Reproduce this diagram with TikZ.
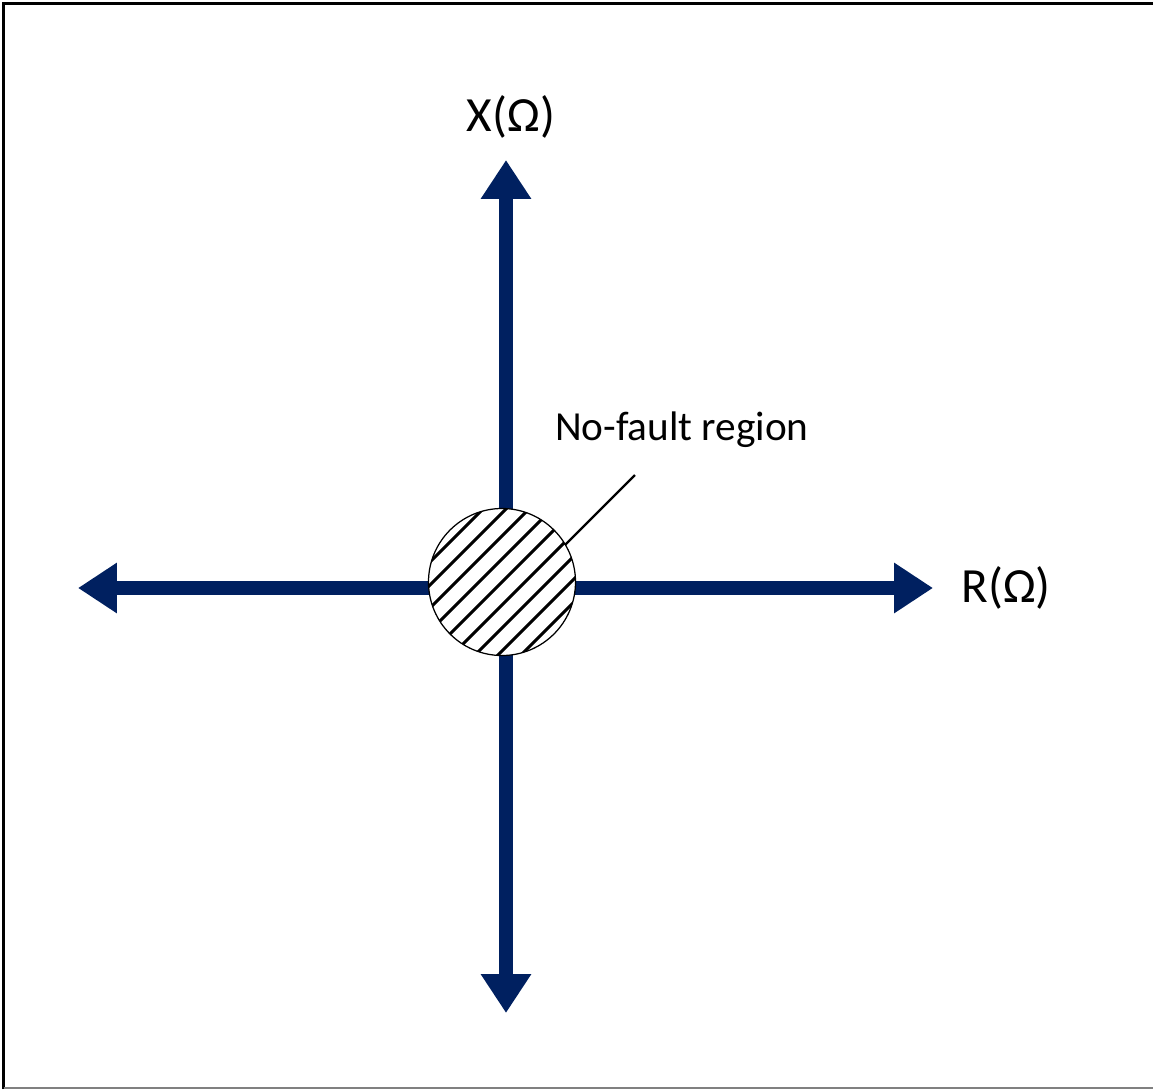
\documentclass[tikz,border=0pt]{standalone}
\usepackage{fontspec}
\setmainfont{Carlito}
\usepackage{tikz}
\usetikzlibrary{arrows.meta,positioning,calc}

\definecolor{navy}{HTML}{002060}

\tikzset{
  axis/.style={draw=navy,line width=0.28cm,{Triangle[length=0.78cm,width=0.96cm]}-{Triangle[length=0.78cm,width=0.96cm]}},
  axislabel/.style={font=\fontsize{28}{32}\selectfont},
  hatch/.style={line width=0.06cm,black},
}

\begin{document}
\begin{tikzpicture}[x=0.02cm,y=-0.02cm]
\useasboundingbox (0,0) rectangle (1153,1089);
% frame
\draw[line width=0.05cm] (3.5,1089) -- (3.5,3.5) -- (1153,3.5);
\draw[gray,line width=0.03cm] (3.5,1088) -- (1153,1088);

% axes
\coordinate (xtop) at (506,160);
\coordinate (xbot) at (506,1013);
\coordinate (rleft) at (78,588);
\coordinate (rright) at (933,588);
\draw[axis] (xbot) -- (xtop);
\draw[axis] (rleft) -- (rright);
\node[axislabel] (xlab) at (511,117) {X(Ω)};
\node[axislabel,right=0.45cm of rright] (rlab) {R(Ω)};

% no-fault region
\coordinate (c) at (502,582);
\fill[white] (c) circle (73.5);
\begin{scope}
  \clip (c) circle (73.5);
  \foreach \k in {-5,...,5}
    \draw[hatch] ($(c)+(\k*11.5,\k*11.5)+(-80,80)$) -- ($(c)+(\k*11.5,\k*11.5)+(80,-80)$);
\end{scope}
\draw[line width=0.025cm] (c) circle (73.5);
\coordinate (pend) at (635,475);
\coordinate (pstart) at (565,545);
\draw[line width=0.045cm] (pstart) -- (pend);
\node[font=\fontsize{23.5}{28}\selectfont] (nlab) at (682,430) {No-fault region};
\end{tikzpicture}
\end{document}
